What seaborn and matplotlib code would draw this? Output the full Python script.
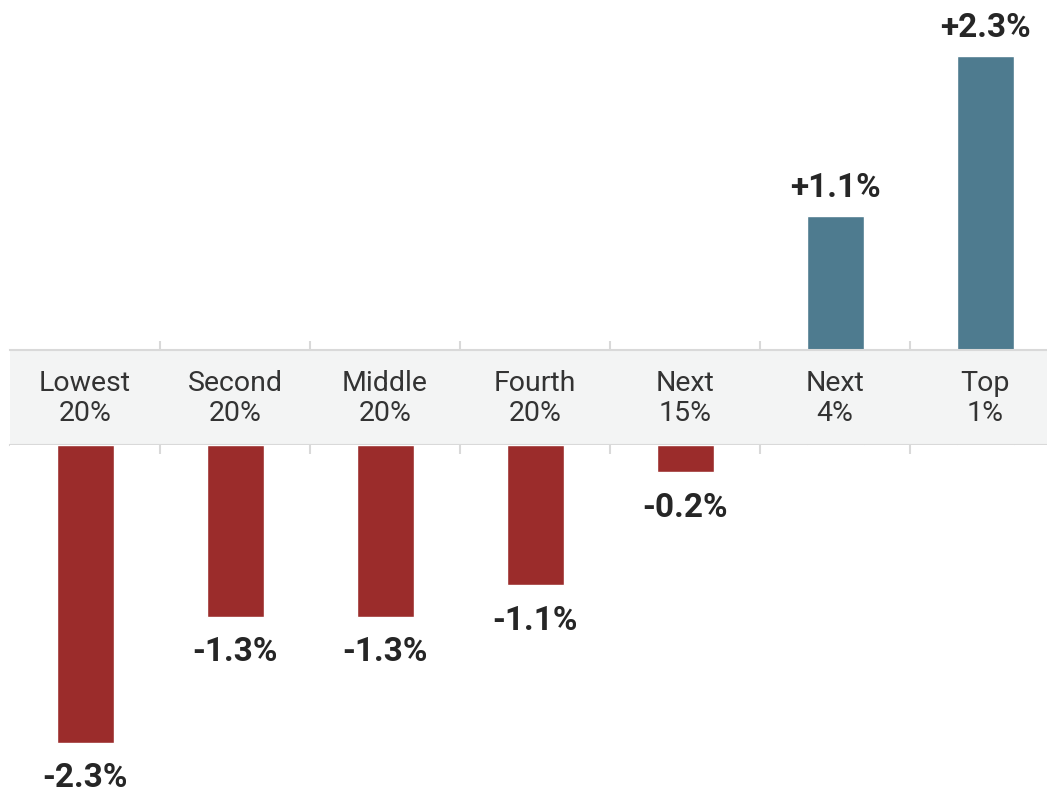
import pandas as pd
import matplotlib.pyplot as plt
import seaborn as sns

# income groups and change in share (percentage points)
groups = ["Lowest\n20%", "Second\n20%", "Middle\n20%", "Fourth\n20%", "Next\n15%", "Next\n4%", "Top\n1%"]
change = [-2.29, -1.32, -1.32, -1.08, -0.21, 1.03, 2.26]
value_labels = ["-2.3%", "-1.3%", "-1.3%", "-1.1%", "-0.2%", "+1.1%", "+2.3%"]

red = "#9b2c2b"
blue = "#4e7b8f"
grid_grey = "#d9d9d9"

df = pd.DataFrame({"group": groups, "change": change})
df["sign"] = ["up" if v > 0 else "down" for v in df["change"]]

sns.set_style("white")
plt.rcParams["font.family"] = ["Roboto", "DejaVu Sans"]

W, H = 1047, 791
fig = plt.figure(figsize=(W / 100, H / 100), dpi=100)

px_per_unit = 130.0
left_px, band_top, band_bot = 10, 350, 445
slot = 150.0
xmax = -0.5 + (W - left_px) / slot


def px_axes(top, bottom):
    return fig.add_axes([left_px / W, 1 - bottom / H, (W - left_px) / W, (bottom - top) / H])


ax_up = px_axes(0, band_top)
ax_band = px_axes(band_top, band_bot)
ax_down = px_axes(band_bot, H)

for ax in (ax_up, ax_down):
    sns.barplot(data=df, x="group", y="change", hue="sign", order=groups,
                palette={"up": blue, "down": red}, width=0.38, dodge=False,
                legend=False, saturation=1, ax=ax)
    ax.set_xlim(-0.5, xmax)
    ax.set_xlabel("")
    ax.set_ylabel("")
    ax.set_yticks([])
    ax.set_xticks([i + 0.5 for i in range(len(groups) - 1)])
    ax.set_xticklabels([])
    for s in ax.spines.values():
        s.set_visible(False)

ax_up.set_ylim(0, band_top / px_per_unit)
ax_down.set_ylim(-(H - band_bot) / px_per_unit, 0)
ax_up.tick_params(axis="x", direction="in", bottom=True, top=False, length=6.5,
                  width=1.5, color=grid_grey)
ax_down.tick_params(axis="x", direction="in", bottom=False, top=True, length=6.5,
                    width=1.5, color=grid_grey)

# grey band holding the category names
ax_band.set_facecolor("#f3f4f4")
ax_band.set_xlim(-0.5, xmax)
ax_band.set_ylim(0, 1)
ax_band.set_xticks([])
ax_band.set_yticks([])
for side in ("left", "right"):
    ax_band.spines[side].set_visible(False)
for side in ("top", "bottom"):
    ax_band.spines[side].set_color(grid_grey)
    ax_band.spines[side].set_linewidth(1.5)
for i, g in enumerate(groups):
    ax_band.text(i, 0.49, g, ha="center", va="center", fontsize=20.5,
                 color="#333333", linespacing=1.18)

# value labels
for i, (v, lab) in enumerate(zip(change, value_labels)):
    if v > 0:
        ax_up.annotate(lab, (i, v), xytext=(0, 14), textcoords="offset points",
                       ha="center", va="baseline", fontsize=24, fontweight="bold",
                       color="#262626", annotation_clip=False)
    else:
        ax_down.annotate(lab, (i, v), xytext=(0, -14), textcoords="offset points",
                         ha="center", va="top", fontsize=24, fontweight="bold",
                         color="#262626", annotation_clip=False)

fig.savefig("out.png", dpi=100)
